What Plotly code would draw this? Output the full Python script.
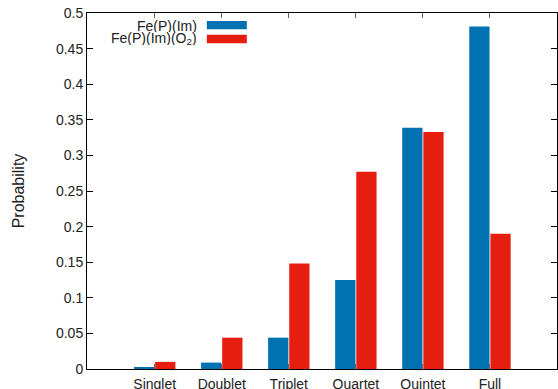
import plotly.graph_objects as go

categories = ["Singlet", "Doublet", "Triplet", "Quartet", "Quintet", "Full"]
fe_p_im = [0.002, 0.009, 0.044, 0.125, 0.339, 0.481]
fe_p_im_o2 = [0.010, 0.044, 0.148, 0.277, 0.333, 0.190]
y_ticks = [0, 0.05, 0.1, 0.15, 0.2, 0.25, 0.3, 0.35, 0.4, 0.45, 0.5]
y_tick_labels = ["0", "0.05", "0.1", "0.15", "0.2", "0.25", "0.3", "0.35", "0.4", "0.45", "0.5"]
series_names = ["Fe(P)(Im)", "Fe(P)(Im)(O<sub>2</sub>)"]
colors = ["#0072b2", "#e51e10"]

x_idx = list(range(len(categories)))

fig = go.Figure()
for name, vals, col in zip(series_names, [fe_p_im, fe_p_im_o2], colors):
    fig.add_trace(go.Bar(x=x_idx, y=vals, name=name, marker=dict(color=col, line=dict(width=0)),
                         showlegend=False))

font = dict(family="Liberation Sans, Arial, sans-serif", size=14, color="#222222")

fig.update_layout(
    width=558, height=389,
    margin=dict(l=87, r=1, t=13, b=20),
    paper_bgcolor="white", plot_bgcolor="white",
    barmode="group", bargap=0.37, bargroupgap=0.04,
    font=font,
    xaxis=dict(range=[-1.01, 6.0], tickvals=x_idx, ticktext=categories, automargin=False,
               ticks="inside", ticklen=5, tickcolor="#666666", showline=True, linecolor="black",
               linewidth=1, mirror="ticks", showgrid=False, zeroline=False, ticklabelstandoff=2),
    yaxis=dict(range=[0, 0.5], tickvals=y_ticks, ticktext=y_tick_labels, automargin=False,
               ticks="inside", ticklen=6, tickcolor="black", showline=True, linecolor="black",
               linewidth=1, mirror="ticks", showgrid=False, zeroline=False,
               title=dict(text="Probability", standoff=27,
                          font=dict(family="Liberation Sans, Arial, sans-serif", size=16, color="#222222"))),
)

# legend (gnuplot style: text right-aligned, swatch to the right)
leg_y = [0.966, 0.927]
for name, col, yy in zip(series_names, colors, leg_y):
    fig.add_annotation(xref="paper", yref="paper", x=0.237, y=yy, text=name, showarrow=False,
                       xanchor="right", yanchor="middle", font=font, borderpad=0,
                       height=13, valign="middle")
    fig.add_shape(type="rect", xref="paper", yref="paper", x0=0.255, x1=0.34,
                  y0=yy - 0.0117, y1=yy + 0.0117, fillcolor=col, line=dict(width=0))

fig.write_html("out.html")
